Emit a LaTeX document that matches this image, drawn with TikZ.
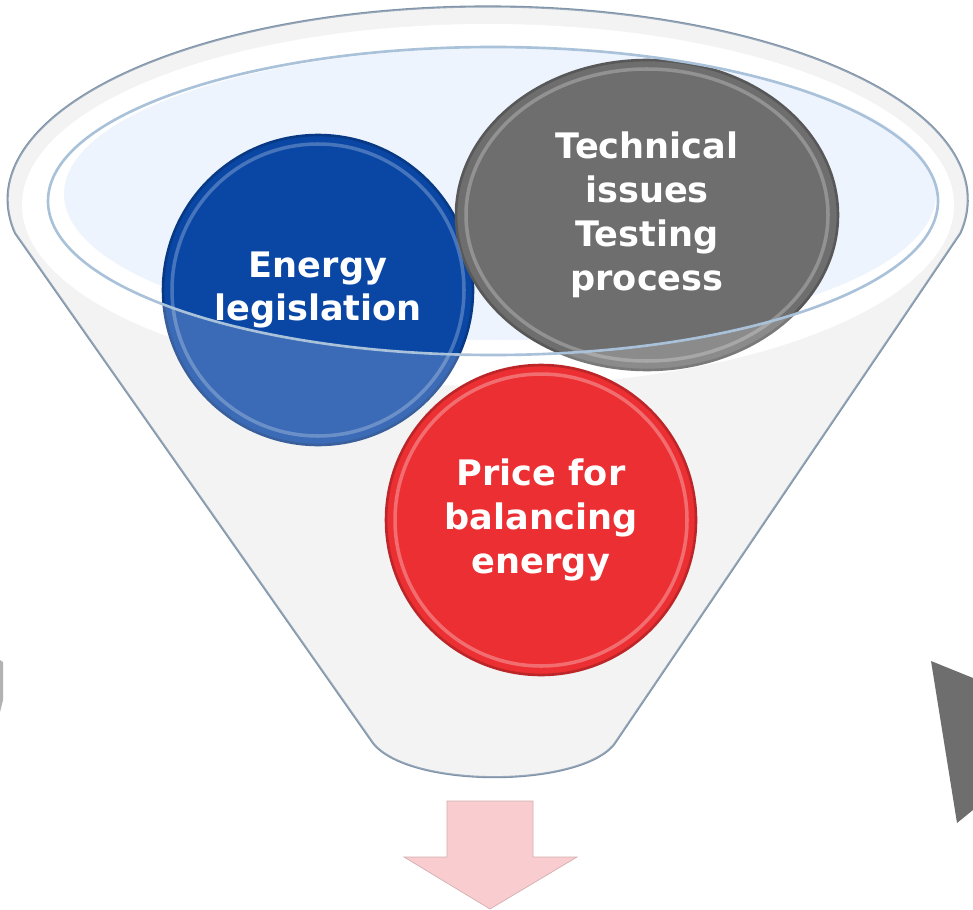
\documentclass[tikz,border=0pt]{standalone}
\usepackage{fontspec}
\setmainfont{DejaVu Sans}
\usetikzlibrary{shapes.geometric}
\definecolor{funnelline}{HTML}{7F93A8}
\definecolor{funnelbody}{HTML}{F1F1F1}
\definecolor{innerline}{HTML}{A9C2DA}
\definecolor{innerblue}{HTML}{EDF4FD}
\definecolor{legisblue}{HTML}{0A47A5}
\definecolor{techgrey}{HTML}{6E6E6E}
\definecolor{pricered}{HTML}{EC2F33}
\definecolor{arrowpink}{HTML}{F9CDCF}

\begin{document}
\begin{tikzpicture}[x=0.02cm,y=-0.02cm,
    bubble/.style={circle,minimum size=6.2cm,inner sep=0pt,text=white,align=center,
      font=\bfseries\fontsize{20}{25}\selectfont,line width=1.5}]
    \useasboundingbox (0,0) rectangle (973,909);

    % funnel body and rim
    \fill[funnelbody] (15,233) arc[start angle=170,end angle=370,x radius=480,y radius=193]
      -- (617,740) .. controls (590,788) and (410,790) .. (373,743) -- cycle;
    \fill[white] (488,205) circle[x radius=466,y radius=181];
    \fill[white] (493,201) circle[x radius=445,y radius=154];
    \fill[innerblue] (500,194) circle[x radius=436,y radius=146];
    \draw[funnelline,line width=1.2] (15,233) arc[start angle=170,end angle=370,x radius=480,y radius=193]
      -- (617,740) .. controls (590,788) and (410,790) .. (373,743) -- cycle;

    % bubbles behind the rim
    \node[bubble,fill=legisblue,draw=legisblue!80!black] (legislation) at (318,290) {Energy\\legislation};
    \node[bubble,ellipse,minimum width=7.64cm,minimum height=6.2cm,fill=techgrey,draw=techgrey!80!black]
      (technical) at (647,215) {Technical\\issues\\Testing\\process};
    \draw[legisblue!50!white,opacity=0.5,line width=2] (legislation.center) circle[radius=146];
    \draw[white,opacity=0.25,line width=2] (technical.center) circle[x radius=181,y radius=146];

    % front of the funnel
    \fill[white,opacity=0.2,even odd rule] (15,233) arc[start angle=170,end angle=370,x radius=480,y radius=193]
      -- (617,740) .. controls (590,788) and (410,790) .. (373,743) -- cycle
      (493,201) circle[x radius=445,y radius=154];
    \draw[innerline,line width=1.5] (493,201) circle[x radius=445,y radius=154];

    \node[bubble,fill=pricered,draw=pricered!80!black] (price) at (541,520) {Price for\\balancing\\energy};
    \draw[white,opacity=0.3,line width=2] (price.center) circle[radius=146];

    % arrows
    \filldraw[fill=arrowpink,draw=arrowpink!85!black] (447,801) -- (533,801) -- (533,857) -- (577,857)
      -- (490,909) -- (404,857) -- (447,857) -- cycle;
    \fill[techgrey] (931,661) -- (973,678) -- (973,810) -- (957,823) -- cycle;
    \fill[gray!60] (0,660) -- (3,662) -- (3,700) -- (0,712) -- cycle;
\end{tikzpicture}
\end{document}
